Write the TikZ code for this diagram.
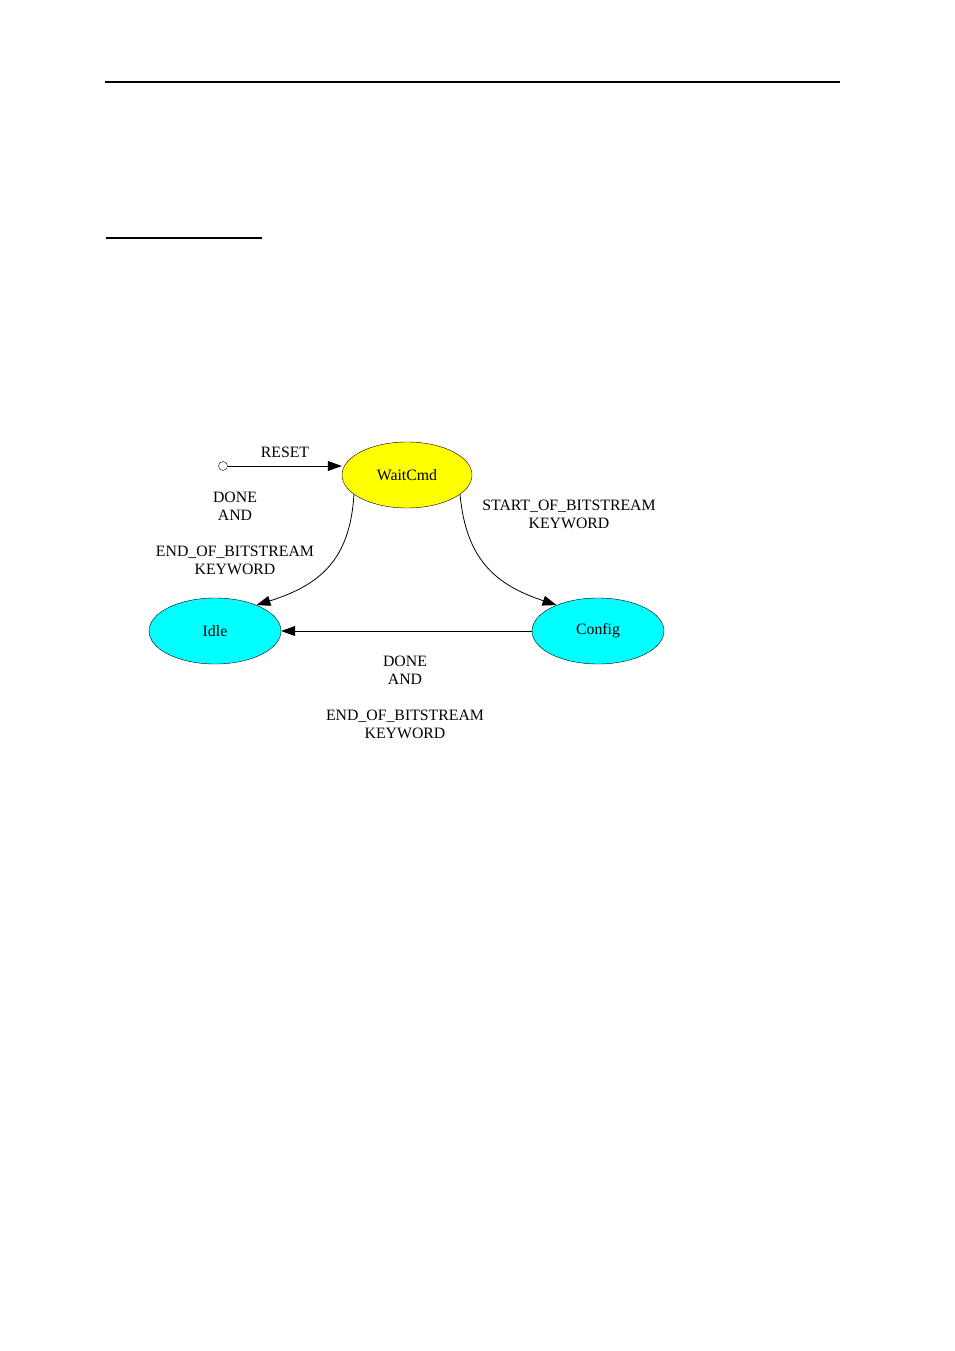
\documentclass[tikz,border=0pt]{standalone}
\usepackage{fontspec}
\setmainfont{Liberation Serif}
\usetikzlibrary{positioning,shapes.geometric,arrows.meta}
\definecolor{stateyellow}{RGB}{255,255,0}
\definecolor{statecyan}{RGB}{0,255,255}

\begin{document}
\begin{tikzpicture}[x=1pt,y=-1pt,font=\fontsize{15.8}{18}\selectfont,>={Triangle[length=14pt,width=10pt]}]
\useasboundingbox (0,0) rectangle (954,1351);
\draw[line width=1.3pt] (105,82) -- (840,82);
\draw[line width=2.8pt] (106,238) -- (262,238);

\node[circle, draw, inner sep=0pt, minimum size=9pt](start) at (223,466) {};
\node[ellipse, draw, fill=stateyellow, minimum width=130pt, minimum height=66pt](wait) at (407,475) {WaitCmd};
\node[ellipse, draw, fill=statecyan, minimum width=132pt, minimum height=66pt](idle) at (215,631) {Idle};
\node[ellipse, draw, fill=statecyan, minimum width=132pt, minimum height=66pt](config) at (598,631) {Config};

\draw[->, line width=0.8pt] (start) -- (start -| wait.west);
\draw[->, line width=0.8pt] (wait.200) .. controls (350,560) and (320,585) .. (idle.32);
\draw[->, line width=0.8pt] (wait.340) .. controls (466,560) and (496,585) .. (config.148);
\draw[->, line width=0.8pt] (config) -- (idle);

\node(reset) at (285,452) {RESET};
\node[align=center](done1) at (235,533) {DONE\\AND\\[18pt]END\_OF\_BITSTREAM\\KEYWORD};
\node[align=center](start1) at (569,514) {START\_OF\_BITSTREAM\\KEYWORD};
\node[align=center](done2) at (405,697) {DONE\\AND\\[18pt]END\_OF\_BITSTREAM\\KEYWORD};
\end{tikzpicture}
\end{document}
